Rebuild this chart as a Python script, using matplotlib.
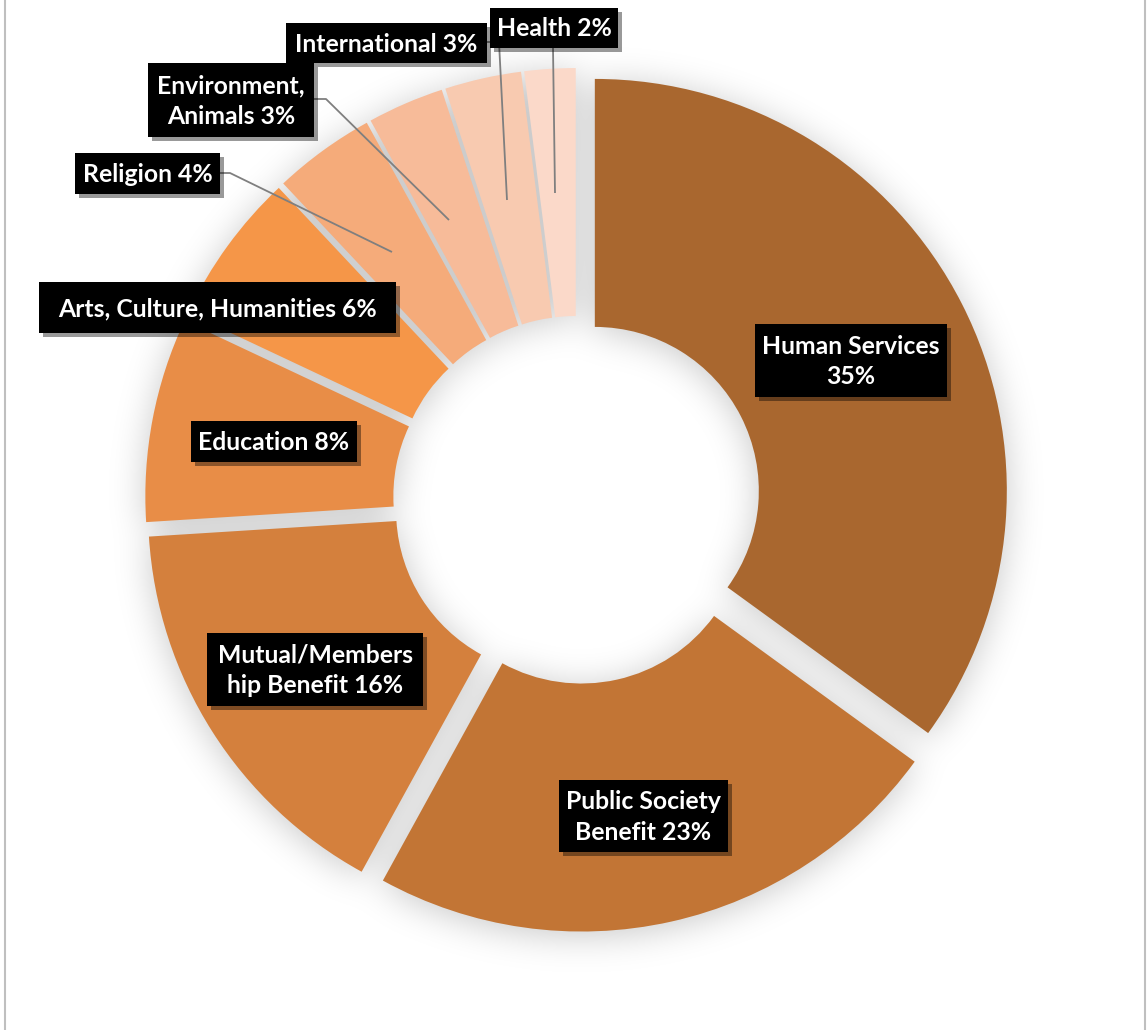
import numpy as np
import matplotlib
matplotlib.use("Agg")
import matplotlib.pyplot as plt
import matplotlib.patheffects as pe
from matplotlib.lines import Line2D
from matplotlib.patches import Rectangle

# ---------------- data ----------------
categories = ["Human Services", "Public Society Benefit", "Mutual/Membership Benefit",
              "Education", "Arts, Culture, Humanities", "Religion",
              "Environment, Animals", "International", "Health"]
values = [35, 23, 16, 8, 6, 4, 3, 3, 2]
label_texts = ["Human Services\n35%", "Public Society\nBenefit 23%", "Mutual/Members\nhip Benefit 16%",
               "Education 8%", "Arts, Culture, Humanities 6%", "Religion 4%",
               "Environment,\nAnimals 3%", "International 3%", "Health 2%"]
colors = ["#A9672F", "#C27535", "#D4803D", "#E88D47", "#F59648",
          "#F5AB7A", "#F7BB99", "#F8CAB0", "#FBD9C9"]

# ---------------- layout (pixels) ----------------
W, H = 1148, 1030
CX, CY = 577, 500          # donut centre (px from top)
R = 412                    # outer radius
RING = 248                 # ring width
EXP = 20                   # explosion distance

def Y(y):
    return H - y

# label boxes (x0, y0, x1, y1) in px from top-left
label_boxes = [(755, 324, 947, 397), (559, 780, 728, 852), (207, 633, 423, 706),
               (191, 421, 357, 462), (39, 282, 396, 333), (75, 153, 220, 194),
               (148, 63, 314, 137), (286, 23, 487, 63), (490, 8, 618, 48)]
# leader lines for the small slices
leaders = {
    5: [(220, 173), (230, 173), (392, 252)],
    6: [(314, 99), (326, 99), (449, 220)],
    7: [(487, 42), (499, 42), (507, 200)],
    8: [(553, 48), (555, 193)],
}

plt.rcParams['font.family'] = ['Lato', 'DejaVu Sans']

def draw_pie(ax, cols):
    w, _ = ax.pie(values, colors=cols, startangle=90, counterclock=False,
                  radius=R, center=(CX, Y(CY)), explode=[EXP] * len(values),
                  wedgeprops=dict(width=RING, linewidth=0))
    ax.set_xlim(0, W)
    ax.set_ylim(0, H)
    ax.set_aspect('equal')
    ax.axis('off')
    return w

# ---------------- shadow mask (rendered off-screen) ----------------
sfig = plt.figure(figsize=(W / 100, H / 100), dpi=100)
sax = sfig.add_axes([0, 0, 1, 1])
draw_pie(sax, ['black'] * len(values))
sfig.canvas.draw()
img = np.asarray(sfig.canvas.buffer_rgba()).astype(float)
plt.close(sfig)
mask = 1.0 - img[:, :, 0] / 255.0
mask = np.roll(mask, 4, axis=0)

def blur(a, sigma):
    r = int(3 * sigma)
    k = np.exp(-0.5 * (np.arange(-r, r + 1) / sigma) ** 2)
    k /= k.sum()
    p = np.pad(a, ((r, r), (0, 0)))
    out = np.zeros_like(a)
    for i, kv in enumerate(k):
        out += kv * p[i:i + a.shape[0], :]
    p = np.pad(out, ((0, 0), (r, r)))
    out2 = np.zeros_like(a)
    for i, kv in enumerate(k):
        out2 += kv * p[:, i:i + a.shape[1]]
    return out2

sh = blur(mask, 18)
rgba = np.zeros((sh.shape[0], sh.shape[1], 4))
rgba[:, :, 3] = np.clip(sh * 0.22, 0, 1)

# ---------------- main figure ----------------
fig = plt.figure(figsize=(W / 100, H / 100), dpi=100)
fig.patch.set_facecolor('white')
ax = fig.add_axes([0, 0, 1, 1])
ax.imshow(rgba, extent=(0, W, 0, H), origin='upper', zorder=0, interpolation='bilinear')
wedges = draw_pie(ax, colors)
for w in wedges:
    w.set_zorder(2)

# leader lines
for idx, pts in leaders.items():
    xs = [p[0] for p in pts]
    ys = [Y(p[1]) for p in pts]
    ax.plot(xs, ys, color='#7F7F7F', lw=1.3, zorder=3, solid_capstyle='butt')

# labels: black boxes with soft shadow, white bold text
for txt, (x0, y0, x1, y1) in zip(label_texts, label_boxes):
    rect = Rectangle((x0, Y(y1)), x1 - x0, y1 - y0, facecolor='black', edgecolor='none', zorder=5)
    rect.set_path_effects([
        pe.SimplePatchShadow(offset=(3, -3), shadow_rgbFace='black', alpha=0.4),
        pe.Normal()])
    ax.add_patch(rect)
    ax.text((x0 + x1) / 2, Y((y0 + y1) / 2 + 1), txt, ha='center', va='center', color='white',
            fontsize=17.8, fontweight='bold', linespacing=1.42, zorder=6)

# outer frame lines (left & right)
fig.add_artist(Line2D([4.5 / W, 4.5 / W], [0, 1], transform=fig.transFigure, color='#BFBFBF', lw=1.5))
fig.add_artist(Line2D([1145 / W, 1145 / W], [0, 1], transform=fig.transFigure, color='#BFBFBF', lw=1.5))

fig.savefig('out.png', dpi=100, facecolor='white')
